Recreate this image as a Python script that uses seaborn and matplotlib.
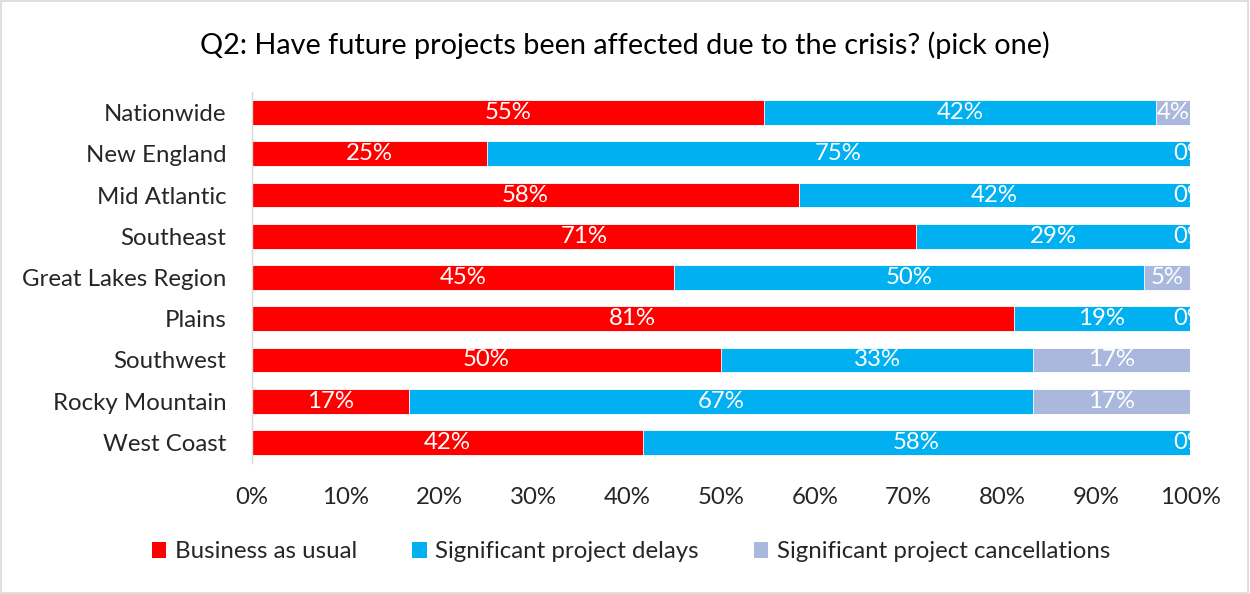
import matplotlib
matplotlib.use("Agg")
import matplotlib.pyplot as plt
import seaborn as sns
import numpy as np
import pandas as pd
from matplotlib.patches import Patch, Rectangle

regions = ["Nationwide", "New England", "Mid Atlantic", "Southeast", "Great Lakes Region",
           "Plains", "Southwest", "Rocky Mountain", "West Coast"]
business_as_usual = [54.6, 25.0, 58.3, 70.8, 45.0, 81.2, 50.0, 16.7, 41.7]
project_delays = [41.8, 75.0, 41.7, 29.2, 50.1, 18.8, 33.3, 66.6, 58.3]
project_cancellations = [3.6, 0.0, 0.0, 0.0, 4.9, 0.0, 16.7, 16.7, 0.0]
series_names = ["Business as usual", "Significant project delays", "Significant project cancellations"]
colors = ["#FF0000", "#00B0F0", "#A9B8DC"]
xticks = [0, 10, 20, 30, 40, 50, 60, 70, 80, 90, 100]

sns.set_theme(style="white")
plt.rcParams['font.family'] = ['Lato', 'DejaVu Sans']
FS = 17.3

fig = plt.figure(figsize=(12.5, 5.94), dpi=100)
ax = fig.add_axes([252/1250, 1 - 463/594, (1190 - 252)/1250, (463 - 92)/594])

df = pd.DataFrame({"region": regions, "bau": business_as_usual,
                   "delay": project_delays, "cancel": project_cancellations})
df["c1"] = df["bau"]
df["c2"] = df["bau"] + df["delay"]
df["c3"] = df["c2"] + df["cancel"]

for col, c in [("c3", colors[2]), ("c2", colors[1]), ("c1", colors[0])]:
    sns.barplot(data=df, x=col, y="region", orient="h", color=c, width=0.6,
                ax=ax, saturation=1, edgecolor="white", linewidth=0.6)

for i, row in df.iterrows():
    starts = [0, row["c1"], row["c2"]]
    vals = [row["bau"], row["delay"], row["cancel"]]
    for s, v in zip(starts, vals):
        ax.text(s + v / 2, i, f"{round(v):.0f}%", ha="center", va="center",
                color="white", fontsize=FS, clip_on=True)

ax.set_xlim(0, 100)
ax.set_ylim(len(regions) - 0.5, -0.5)
ax.set_xticks(xticks)
ax.set_xticklabels([f"{t}%" for t in xticks], fontsize=FS)
ax.tick_params(axis="y", labelsize=FS, pad=18.5, length=0)
ax.tick_params(axis="x", pad=17, length=0)
ax.set_xlabel("")
ax.set_ylabel("")
for s in ["top", "right", "bottom"]:
    ax.spines[s].set_visible(False)
ax.spines["left"].set_color("#D9D9D9")
ax.spines["left"].set_linewidth(1)

fig.suptitle("Q2: Have future projects been affected due to the crisis? (pick one)",
             fontsize=20.8, y=1 - 45/594, va="center", color="#000000")

handles = [Patch(facecolor=c, edgecolor="none", label=n) for c, n in zip(colors, series_names)]
fig.legend(handles=handles, loc="center", bbox_to_anchor=(631/1250, 1 - 552/594), ncol=3,
           frameon=False, fontsize=FS, handlelength=0.6, handleheight=0.6,
           handletextpad=0.35, columnspacing=2.3)

fig.patches.append(Rectangle((0.001, 0.002), 0.997, 0.996, transform=fig.transFigure,
                             fill=False, edgecolor="#D9D9D9", linewidth=1.2))

fig.savefig("out.png", dpi=100)
